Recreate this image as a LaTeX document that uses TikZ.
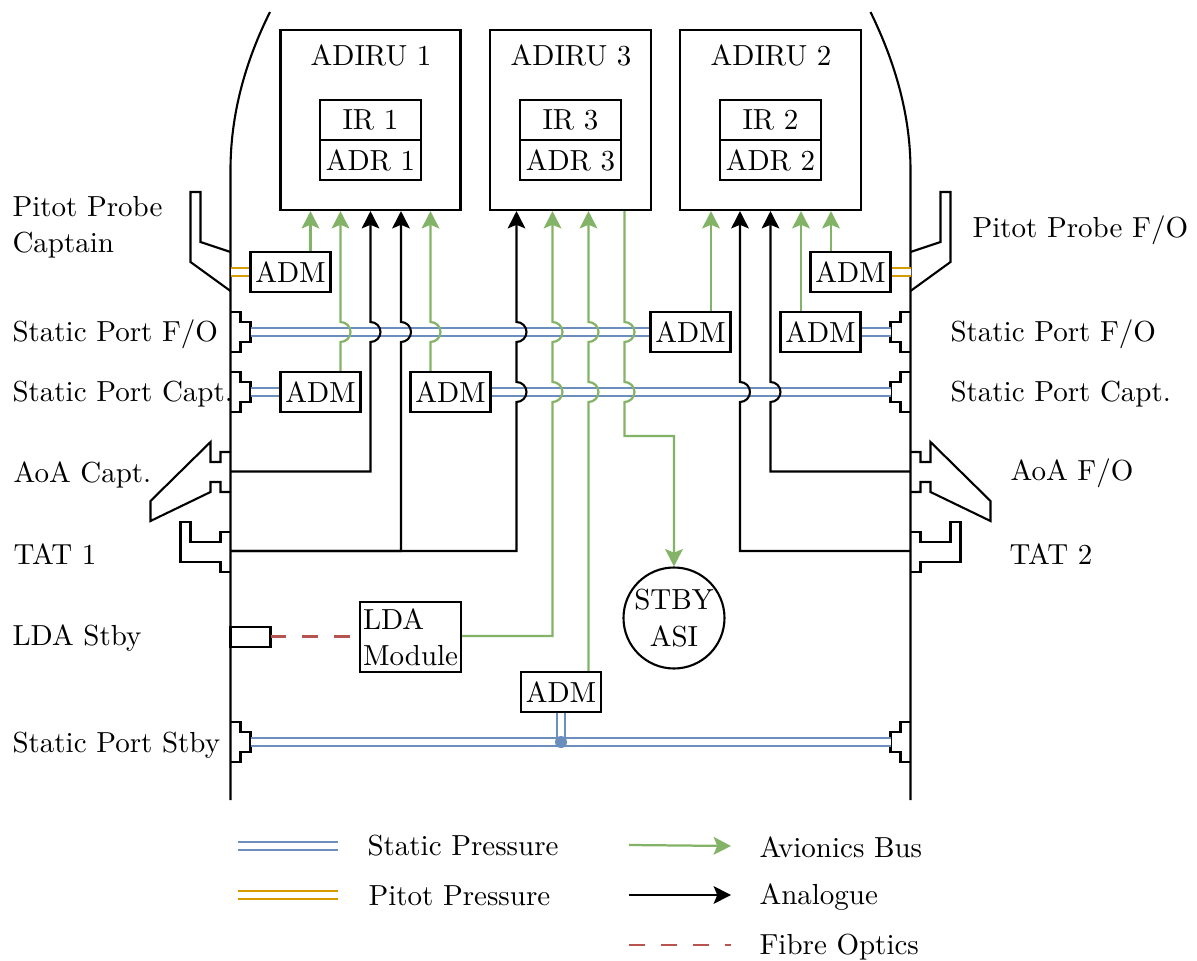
\documentclass[tikz,border=0pt]{standalone}
\usetikzlibrary{arrows.meta}
\definecolor{cblue}{HTML}{6C8EBF}
\definecolor{cgreen}{HTML}{82B366}
\definecolor{corange}{HTML}{D79B00}
\definecolor{cred}{HTML}{B85450}
\def\uu{0.357pt}
\def\jup#1#2{-- (#1,#2+10) arc[start angle=90,end angle=-90,radius=10]}
\def\jdn#1#2{-- (#1,#2-10) arc[start angle=-90,end angle=90,radius=10]}
\tikzset{
  x=\uu, y=-\uu,
  every node/.style={font=\fontsize{10.35}{12.9}\selectfont},
  ln/.style={line width=0.75pt, line join=miter},
  boxn/.style={draw, ln, inner sep=0pt, minimum width=#1*\uu},
  boxn/.default=80,
  adm/.style={boxn=80, minimum height=40*\uu},
  lbl/.style={anchor=west, inner sep=0pt, align=left},
  blue2/.style={draw=cblue, line width=0.75pt, double=white, double distance=2.1pt},
  orange2/.style={draw=corange, line width=0.85pt, double=white, double distance=2.0pt},
  gbus/.style={draw=cgreen, line width=0.8pt, -{Stealth[length=6.2pt,width=6.3pt,inset=1.3pt]}},
  kbus/.style={draw=black, ln, -{Stealth[length=6.2pt,width=6.3pt,inset=1.3pt]}},
  fibre/.style={draw=cred, line width=0.75pt, dash pattern=on 5.7pt off 5.7pt},
}
\begin{document}
\begin{tikzpicture}
\useasboundingbox (0,0) rectangle (1197,961);
% fuselage
\draw[ln] (270,12) .. controls (245,62) and (230.5,115) .. (230.5,170) -- (230.5,800);
\draw[ln] (870.5,12) .. controls (895,62) and (910.5,115) .. (910.5,170) -- (910.5,800);
% probes left
\draw[ln] (230.5,252) -- (200.5,242) -- (200.5,192) -- (190.5,192) -- (190.5,262) -- (230.5,291);
\draw[ln] (230.5,312) -- (240.5,312) -- (240.5,322) -- (250.5,322) -- (250.5,342) -- (240.5,342) -- (240.5,352) -- (230.5,352);
\draw[ln] (230.5,372) -- (240.5,372) -- (240.5,382) -- (250.5,382) -- (250.5,402) -- (240.5,402) -- (240.5,412) -- (230.5,412);
\draw[ln] (230.5,722) -- (240.5,722) -- (240.5,732) -- (250.5,732) -- (250.5,752) -- (240.5,752) -- (240.5,762) -- (230.5,762);
\draw[ln] (230.5,452) -- (220.5,452) -- (220.5,462) -- (210.5,462) -- (210.5,442) -- (150.5,501) -- (150.5,521) -- (210.5,492) -- (210.5,482) -- (220.5,482) -- (220.5,492) -- (230.5,492);
\draw[ln] (230.5,532) -- (220.5,532) -- (220.5,542) -- (190.5,542) -- (190.5,522) -- (180.5,522) -- (180.5,562) -- (220.5,562) -- (220.5,572) -- (230.5,572);
\draw[ln] (230.5,627) rectangle (270.5,647);
% probes right
\draw[ln] (910.5,252) -- (940.5,242) -- (940.5,192) -- (950.5,192) -- (950.5,262) -- (910.5,291);
\draw[ln] (910.5,312) -- (900.5,312) -- (900.5,322) -- (890.5,322) -- (890.5,342) -- (900.5,342) -- (900.5,352) -- (910.5,352);
\draw[ln] (910.5,372) -- (900.5,372) -- (900.5,382) -- (890.5,382) -- (890.5,402) -- (900.5,402) -- (900.5,412) -- (910.5,412);
\draw[ln] (910.5,722) -- (900.5,722) -- (900.5,732) -- (890.5,732) -- (890.5,752) -- (900.5,752) -- (900.5,762) -- (910.5,762);
\draw[ln] (910.5,452) -- (920.5,452) -- (920.5,462) -- (930.5,462) -- (930.5,442) -- (990.5,501) -- (990.5,521) -- (930.5,492) -- (930.5,482) -- (920.5,482) -- (920.5,492) -- (910.5,492);
\draw[ln] (910.5,532) -- (920.5,532) -- (920.5,542) -- (950.5,542) -- (950.5,522) -- (960.5,522) -- (960.5,562) -- (920.5,562) -- (920.5,572) -- (910.5,572);
% named ends
\coordinate (pitL) at (230.5,272);
\coordinate (pitR) at (910.5,272);
\coordinate (foL) at (250.5,332);
\coordinate (foR) at (890.5,332);
\coordinate (capL) at (250.5,392);
\coordinate (capR) at (890.5,392);
\coordinate (stbL) at (250.5,742);
\coordinate (stbR) at (890.5,742);
\coordinate (aoaL) at (230.5,471.5);
\coordinate (aoaR) at (910.5,471.5);
\coordinate (tatL) at (230.5,551);
\coordinate (tatR) at (910.5,551);
\coordinate (ldaS) at (270.5,636.5);
\coordinate (dot) at (561,742);
% ADIRU
\node[boxn=180, minimum height=180*\uu] (adA) at (370.5,120) {};
\node[boxn=161, minimum height=180*\uu] (adC) at (570.5,120) {};
\node[boxn=181, minimum height=180*\uu] (adB) at (770.5,120) {};
\node (adAt) at (371,55) {ADIRU 1};
\node (adCt) at (571,55) {ADIRU 3};
\node (adBt) at (771,55) {ADIRU 2};
\node[boxn=101, minimum height=40*\uu] (irA) at (370.5,120) {IR 1};
\node[boxn=101, minimum height=40*\uu] (adrA) at (370.5,160) {ADR 1};
\node[boxn=101, minimum height=40*\uu] (irC) at (570.5,120) {IR 3};
\node[boxn=101, minimum height=40*\uu] (adrC) at (570.5,160) {ADR 3};
\node[boxn=101, minimum height=40*\uu] (irB) at (770.5,120) {IR 2};
\node[boxn=101, minimum height=40*\uu] (adrB) at (770.5,160) {ADR 2};
% ADMs
\node[adm] (a1) at (290.5,272) {ADM};
\node[adm] (a2) at (320.5,392) {ADM};
\node[adm] (a3) at (450.5,392) {ADM};
\node[adm] (a4) at (690.5,332) {ADM};
\node[adm] (a5) at (820.5,332) {ADM};
\node[adm] (a6) at (850.5,272) {ADM};
\node[adm] (a7) at (561,692) {ADM};
\node[boxn=101, minimum height=70*\uu, align=left, text width=95*\uu] (lda) at (410.5,637) {LDA\\Module};
\node[draw, ln, circle, minimum size=101*\uu, inner sep=0pt, align=center] (asi) at (674,618) {STBY\\[.5pt]ASI};
% pressure lines
\draw[orange2] (pitL) -- (a1.west);
\draw[orange2] (a6.east) -- (pitR);
\draw[blue2] (foL) -- (a4.west);
\draw[blue2] (a5.east) -- (foR);
\draw[blue2] (capL) -- (a2.west);
\draw[blue2] (a3.east) -- (capR);
\draw[blue2] (stbL) -- (stbR);
\draw[blue2] (a7.south) -- (dot);
\fill[cblue] (dot) circle (6);
% fibre
\draw[fibre] (ldaS) -- (lda.west |- ldaS);
% avionics
\draw[gbus] (310.5,0 |- a1.north) -- (310.5,0 |- adA.south);
\draw[gbus] (340.5,0 |- a2.north) \jup{340.5}{332} -- (340.5,0 |- adA.south);
\draw[gbus] (430.5,0 |- a3.north) \jup{430.5}{332} -- (430.5,0 |- adA.south);
\draw[gbus] (lda.east |- 0,636) -- (552.5,636) \jup{552.5}{392} \jup{552.5}{332} -- (552.5,0 |- adC.south);
\draw[gbus] (588.5,0 |- a7.north) \jup{588.5}{392} \jup{588.5}{332} -- (588.5,0 |- adC.south);
\draw[gbus] (624.5,0 |- adC.south) \jdn{624.5}{332} \jdn{624.5}{392} -- (624.5,436) -- (674,436) -- (asi.north);
\draw[gbus] (711,0 |- a4.north) -- (711,0 |- adB.south);
\draw[gbus] (801,0 |- a5.north) -- (801,0 |- adB.south);
\draw[gbus] (831,0 |- a6.north) -- (831,0 |- adB.south);
% analogue
\draw[kbus] (aoaL) -- (370.5,471.5) \jup{370.5}{332} -- (370.5,0 |- adA.south);
\draw[kbus] (tatL) -- (401,551) \jup{401}{332} -- (401,0 |- adA.south);
\draw[kbus] (tatL) -- (516.5,551) \jup{516.5}{392} \jup{516.5}{332} -- (516.5,0 |- adC.south);
\draw[kbus] (tatR) -- (740,551) \jup{740}{392} -- (740,0 |- adB.south);
\draw[kbus] (aoaR) -- (770.5,471.5) \jup{770.5}{392} -- (770.5,0 |- adB.south);
% labels
\node[lbl] (l1) at (12,227) {Pitot Probe\\Captain};
\node[lbl] (l2) at (12,334.5) {Static Port F/O};
\node[lbl] (l3) at (12,394.5) {Static Port Capt.};
\node[lbl] (l4) at (13,474.5) {AoA Capt.};
\node[lbl] (l5) at (13,554.5) {TAT 1};
\node[lbl] (l6) at (12,638.5) {LDA Stby};
\node[lbl] (l7) at (12,745) {Static Port Stby};
\node[lbl] (r1) at (972,230) {Pitot Probe F/O};
\node[lbl] (r2) at (950,334.5) {Static Port F/O};
\node[lbl] (r3) at (950,394.5) {Static Port Capt.};
\node[lbl] (r4) at (1010,473.5) {AoA F/O};
\node[lbl] (r5) at (1009,554.5) {TAT 2};
% legend
\coordinate (k1a) at (238,846); \coordinate (k1b) at (338,846);
\coordinate (k2a) at (238,895); \coordinate (k2b) at (338,895);
\coordinate (k3a) at (629,845); \coordinate (k3b) at (731,846);
\coordinate (k4a) at (629,895); \coordinate (k4b) at (731,895);
\coordinate (k5a) at (629,945); \coordinate (k5b) at (731,945);
\draw[blue2] (k1a) -- (k1b);
\draw[orange2] (k2a) -- (k2b);
\draw[gbus] (k3a) -- (k3b);
\draw[kbus] (k4a) -- (k4b);
\draw[fibre] (k5a) -- (k5b);
\node[lbl] (t1) at (367,846) {Static Pressure};
\node[lbl] (t2) at (368,896) {Pitot Pressure};
\node[lbl] (t3) at (759,847) {Avionics Bus};
\node[lbl] (t4) at (759,897.5) {Analogue};
\node[lbl] (t5) at (759,947) {Fibre Optics};
\end{tikzpicture}
\end{document}
